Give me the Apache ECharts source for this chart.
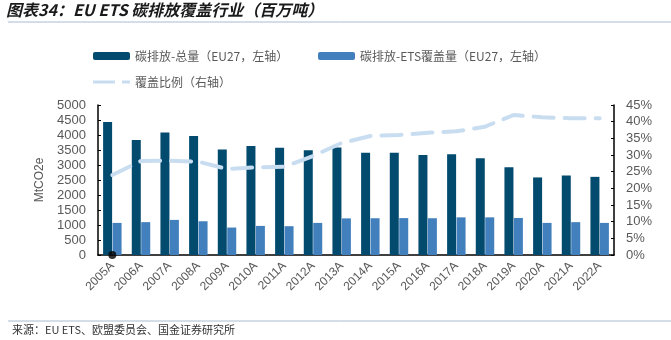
<!DOCTYPE html>
<html><head><meta charset="utf-8">
<script src="https://cdn.jsdelivr.net/npm/echarts@6/dist/echarts.min.js"></script>
<style>html,body{margin:0;padding:0;background:#fff}#c{width:671px;height:340px}</style>
</head><body><div id="c"></div>
<script>
const categories = ['2005A','2006A','2007A','2008A','2009A','2010A','2011A','2012A','2013A','2014A','2015A','2016A','2017A','2018A','2019A','2020A','2021A','2022A'];
const totalEmissions = [4430,3830,4080,3970,3520,3630,3575,3490,3580,3410,3410,3335,3355,3225,2925,2585,2650,2605];
const etsEmissions = [1070,1095,1170,1125,915,970,960,1070,1220,1225,1230,1225,1255,1255,1235,1070,1095,1070];
const coverageRatio = [24.0,28.2,28.3,28.0,25.8,26.3,26.5,29.7,33.6,35.7,36.0,36.7,37.1,38.5,42.0,41.3,41.0,41.0];
const markerPoint = [0];
const legendNames = ['碳排放-总量（EU27，左轴）','碳排放-ETS覆盖量（EU27，左轴）','覆盖比例（右轴）'];

const chart = echarts.init(document.getElementById('c'));
const gray = '#595959';
const font = 'Liberation Sans, Arial, sans-serif';
const cjk = '"Noto Sans CJK SC", sans-serif';
chart.setOption({
  animation:false,
  graphic:[
    {type:'text',left:6,top:2,style:{text:'图表34：EU ETS 碳排放覆盖行业（百万吨）',font:'italic bold 16px "Noto Sans CJK SC", sans-serif',fill:'#1a1a1a'}},
    {type:'line',shape:{x1:8,y1:22,x2:671,y2:22},style:{stroke:'#a9bccf',lineWidth:1}},
    {type:'line',shape:{x1:8,y1:321,x2:671,y2:321},style:{stroke:'#a9bccf',lineWidth:1}},
    {type:'text',left:12,top:324,style:{text:'来源：EU ETS、欧盟委员会、国金证券研究所',font:'11px "Noto Sans CJK SC", sans-serif',fill:'#333'}}
  ],
  legend:[
    {data:[legendNames[0]],left:88,top:45,itemWidth:37,itemHeight:8,textStyle:{color:gray,fontSize:12,fontFamily:cjk}},
    {data:[legendNames[1]],left:313,top:45,itemWidth:37,itemHeight:8,textStyle:{color:gray,fontSize:12,fontFamily:cjk}},
    {data:[{name:legendNames[2],icon:'path://M0,0H22V3H0Z M29,0H37V3H29Z'}],left:88,top:71,itemWidth:37,itemHeight:3,textStyle:{color:gray,fontSize:12,fontFamily:cjk}}
  ],
  grid:{left:98,right:57,top:105,bottom:85},
  xAxis:{type:'category',data:categories,
    axisLine:{lineStyle:{color:'#000',width:1.5}},
    axisTick:{inside:true,length:4,lineStyle:{color:'#000'}},
    axisLabel:{rotate:45,color:gray,fontSize:12,fontFamily:font,interval:0,margin:9}},
  yAxis:[
    {type:'value',min:0,max:5000,interval:500,name:'MtCO2e',nameLocation:'middle',nameGap:48,nameTextStyle:{color:gray,fontSize:12,fontFamily:font},
      axisLine:{show:true,lineStyle:{color:'#000',width:1.5}},axisTick:{show:true,inside:true,length:3,lineStyle:{color:'#000'}},
      axisLabel:{color:gray,fontSize:13,fontFamily:font,margin:12,formatter:v=>String(v)},splitLine:{show:false}},
    {type:'value',min:0,max:45,interval:5,
      axisLine:{show:true,lineStyle:{color:'#000',width:1.5}},axisTick:{show:true,inside:true,length:3,lineStyle:{color:'#000'}},
      axisLabel:{color:gray,fontSize:13,fontFamily:font,margin:12,formatter:v=>v+'%'},splitLine:{show:false}}
  ],
  series:[
    {name:legendNames[0],type:'bar',data:totalEmissions,itemStyle:{color:'#034a6f'},barWidth:9,barGap:'5%'},
    {name:legendNames[1],type:'bar',data:etsEmissions,itemStyle:{color:'#417fbd'},barWidth:9},
    {name:legendNames[2],type:'line',yAxisIndex:1,data:coverageRatio,symbol:'none',
      lineStyle:{color:'#c9ddf1',width:4,type:[20,11],cap:'round'},itemStyle:{color:'#c9ddf1'},z:5},
    {type:'scatter',data:markerPoint,symbolSize:8,itemStyle:{color:'#000'},z:10,silent:true}
  ]
});
</script></body></html>
